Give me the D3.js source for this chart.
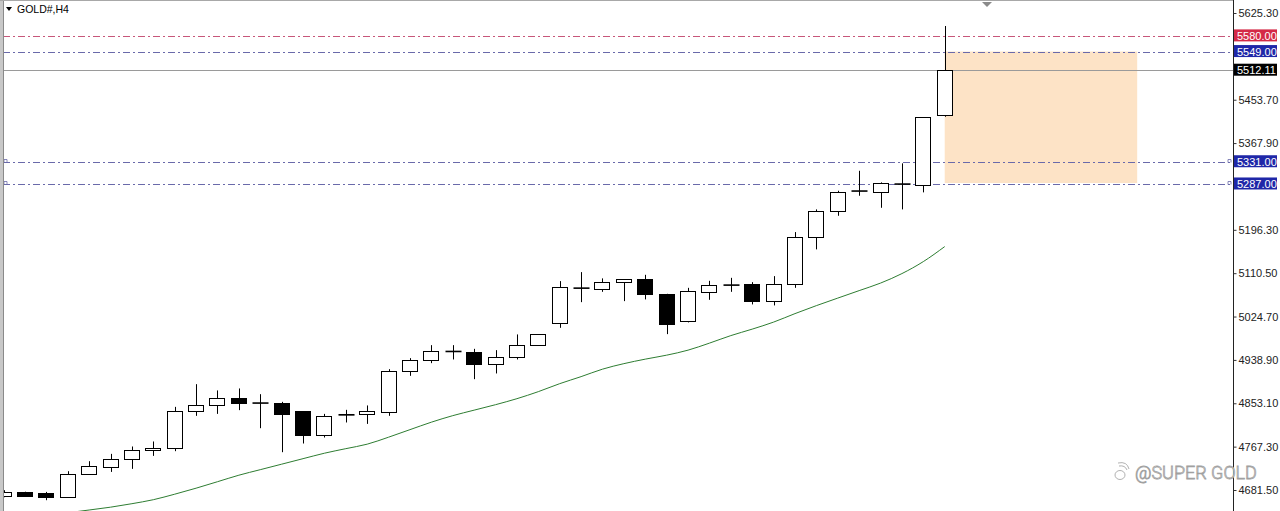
<!DOCTYPE html>
<html><head><meta charset="utf-8">
<script src="https://cdn.jsdelivr.net/npm/d3@7"></script>
<style>html,body{margin:0;padding:0;background:#fff;overflow:hidden}svg{display:block}</style>
</head><body>
<svg id="c" width="1280" height="511"></svg>
<script>
// ---- data ----
const symbol = "GOLD#,H4";
const opens  = [4669.2,4677.1,4674.6,4668.6,4712.8,4727.2,4741.9,4759.7,4764.2,4836.9,4848.8,4863.8,4854.1,4852.7,4836.9,4789.4,4827.6,4831.5,4836.1,4916.1,4939.0,4956.2,4954.9,4931.1,4943.8,4968.1,5011.1,5081.5,5078.4,5093.4,5098.2,5069.7,5016.2,5073.6,5087.5,5088.3,5055.2,5088.9,5181.3,5232.8,5273.6,5271.6,5287.4,5284.2,5422.8];
const highs  = [4681.1,4678.1,4677.7,4718.7,4738.5,4753.0,4767.6,4777.5,4846.0,4890.9,4878.5,4882.4,4871.1,4855.9,4837.5,4832.1,4840.1,4848.8,4920.6,4942.4,4968.1,4968.1,4960.8,4958.2,4989.3,4989.3,5094.8,5112.6,5100.2,5098.8,5107.3,5069.7,5081.5,5095.4,5101.3,5092.8,5104.7,5191.8,5236.7,5273.6,5313.1,5290.2,5327.8,5419.4,5599.6];
const lows   = [4667.2,4669.2,4661.3,4665.9,4711.4,4717.3,4723.3,4749.0,4758.3,4828.2,4832.1,4839.5,4803.8,4756.3,4773.5,4785.4,4815.1,4812.3,4828.2,4907.4,4932.5,4939.8,4900.8,4912.1,4939.8,4968.1,5002.4,5053.2,5073.6,5055.2,5058.6,4989.9,5013.1,5057.8,5073.6,5048.7,5046.7,5081.5,5157.6,5224.1,5263.7,5239.9,5236.7,5270.4,5420.0];
const closes = [4678.1,4670.6,4668.6,4713.4,4728.0,4742.5,4760.9,4764.8,4837.5,4848.8,4863.8,4853.7,4852.5,4831.5,4790.0,4828.2,4830.9,4836.9,4917.3,4937.8,4955.7,4955.1,4930.5,4943.8,4967.5,4989.3,5082.3,5079.2,5093.4,5098.2,5069.1,5009.1,5074.4,5086.9,5086.3,5055.2,5089.5,5181.9,5233.4,5270.4,5271.2,5288.2,5285.0,5418.8,5512.11];
// moving average, starting at bar index 3
const maStart = 3;
const maValues = [4636.5,4641.9,4647.5,4654.4,4662.3,4673.2,4685.1,4697.9,4710.8,4721.7,4732.6,4743.5,4754.3,4763.3,4772.2,4786.0,4800.9,4815.7,4828.6,4839.5,4850.3,4862.2,4876.1,4891.9,4905.8,4920.6,4931.5,4940.4,4948.3,4958.2,4972.1,4987.0,4999.8,5013.7,5030.5,5046.3,5061.2,5076.0,5090.9,5109.7,5133.4,5163.1];
const tickValues = [5625.30,5453.70,5367.90,5196.30,5110.50,5024.70,4938.90,4853.10,4767.30,4681.50];
const levelPrices = [5580.00,5549.00,5331.00,5287.00];
const levelKinds  = ["red","blue","blue","blue"];
const lastPrice = 5512.11;
const zoneTop = 5549.0, zoneBottom = 5289.0, zoneStartBar = 44, zoneEndBar = 53;
const watermark = "@SUPER GOLD";

// ---- layout ----
const W = 1280, H = 511, axisX = 1233;
const svg = d3.select("#c");
const x = d3.scaleLinear().domain([0, 44]).range([3.6, 944.7]);
const y = d3.scaleLinear().domain([4681.5, 5625.3]).range([490, 13]);
const snap = v => Math.round(v) + 0.5;
const bodyHalf = 8;

const plot = svg.append("g");
plot.append("rect").attr("x",0).attr("y",0).attr("width",axisX).attr("height",H).attr("fill","#fff");

// zone rectangle
plot.append("rect")
  .attr("x", x(zoneStartBar)).attr("width", x(zoneEndBar) - x(zoneStartBar))
  .attr("y", y(zoneTop)).attr("height", y(zoneBottom) - y(zoneTop))
  .attr("fill", "#fde3c6");

// level lines
const levelColor = {red:"#c7577a", blue:"#6a6aaa"};
levelPrices.forEach((p,i)=>{
  plot.append("line").attr("x1",3).attr("x2",axisX).attr("y1",snap(y(p))).attr("y2",snap(y(p)))
    .attr("stroke", levelColor[levelKinds[i]]).attr("stroke-width",1).attr("stroke-dasharray","7,3,2,3");
});
// small hooks on the lower levels
[2,3].forEach(i=>{
  const yy = snap(y(levelPrices[i]));
  [4, axisX-5].forEach(xx=>{
    plot.append("path").attr("d",`M${xx},${yy} v-3 h3 v3`).attr("fill","none").attr("stroke","#6a6aaa").attr("stroke-width",0.8);
  });
});
// last price line
plot.append("line").attr("x1",3).attr("x2",axisX).attr("y1",snap(y(lastPrice))).attr("y2",snap(y(lastPrice)))
  .attr("stroke","#9a9a9a").attr("stroke-width",1);

// moving average
const maData = maValues.map((v,i)=>({i:i+maStart, v}));
plot.append("path").datum(maData)
  .attr("d", d3.line().x(d=>x(d.i)).y(d=>y(d.v)).curve(d3.curveMonotoneX))
  .attr("fill","none").attr("stroke","#2e7d32").attr("stroke-width",1);

// candles
const bars = opens.map((o,i)=>({i,o,h:highs[i],l:lows[i],c:closes[i]}));
const cg = plot.append("g");
bars.forEach(d=>{
  const cx = snap(x(d.i));
  cg.append("line").attr("x1",cx).attr("x2",cx).attr("y1",y(d.h)).attr("y2",y(d.l))
    .attr("stroke","#000").attr("stroke-width",1);
  const top = Math.min(y(d.o), y(d.c)), bot = Math.max(y(d.o), y(d.c));
  const bull = d.c >= d.o;
  const hgt = Math.max(bot-top, 1);
  if (hgt < 2) {
    cg.append("rect").attr("x",cx-bodyHalf).attr("width",bodyHalf*2).attr("y",top-0.5).attr("height",Math.max(hgt,1.6))
      .attr("fill","#000");
  } else {
    cg.append("rect").attr("x",Math.round(x(d.i))-bodyHalf+0.5).attr("width",bodyHalf*2-1)
      .attr("y",Math.round(top)+0.5).attr("height",Math.round(bot)-Math.round(top))
      .attr("fill", bull ? "#fff" : "#000").attr("stroke","#000").attr("stroke-width",1);
  }
});

// frame
svg.append("rect").attr("x",0).attr("y",0).attr("width",3).attr("height",H).attr("fill","#c8c8c8");
svg.append("line").attr("x1",3.5).attr("x2",3.5).attr("y1",0).attr("y2",H).attr("stroke","#8a8a8a");
svg.append("line").attr("x1",0).attr("x2",axisX).attr("y1",0.5).attr("y2",0.5).attr("stroke","#a8a8a8");
svg.append("path").attr("d","M982,2 L992,2 L987,7 Z").attr("fill","#8a8a8a");

// right axis
const axisG = svg.append("g").attr("transform",`translate(${axisX+0.5},0)`)
  .call(d3.axisRight(y).tickValues(tickValues).tickSize(3).tickPadding(2).tickFormat(d=>d.toFixed(2)));
axisG.select(".domain").attr("d",`M0,0V${H}`).attr("stroke","#222");
axisG.selectAll(".tick line").attr("stroke","#333");
axisG.selectAll(".tick text").attr("font-family","Liberation Sans, Arial, sans-serif").attr("font-size",11).attr("fill","#222");

// price labels
const labelFill = {red:"#d42a47", blue:"#1f27a8", black:"#000"};
function priceLabel(p, kind){
  const yy = y(p);
  svg.append("rect").attr("x",axisX+1).attr("y",yy-6.5).attr("width",43).attr("height",12).attr("fill",labelFill[kind]);
  svg.append("text").attr("x",axisX+4).attr("y",yy+4).attr("fill","#fff")
    .attr("font-family","Liberation Sans, Arial, sans-serif").attr("font-size",11).text(p.toFixed(2));
}
levelPrices.forEach((p,i)=>priceLabel(p, levelKinds[i]));
priceLabel(lastPrice, "black");

// symbol title
svg.append("path").attr("d","M6,7 L12,7 L9,11 Z").attr("fill","#000");
svg.append("text").attr("x",17).attr("y",13).attr("font-family","Liberation Sans, Arial, sans-serif")
  .attr("font-size",10.5).attr("fill","#000").text(symbol);

// watermark
const wm = svg.append("g").attr("fill","none").attr("stroke","#a8a8a8").attr("stroke-width",0.9);
wm.append("ellipse").attr("cx",1120).attr("cy",475).attr("rx",5).attr("ry",4.5);
wm.append("path").attr("d","M1119,466 q6,-1 8,4 M1118,463 q9,-2 11,6");
svg.append("text").attr("x",1135).attr("y",479).attr("font-family","Roboto, sans-serif").attr("font-weight",300)
  .attr("font-size",18).attr("fill","#fff").attr("stroke","#a0a0a0").attr("stroke-width",0.8).text(watermark);
</script>
</body></html>
